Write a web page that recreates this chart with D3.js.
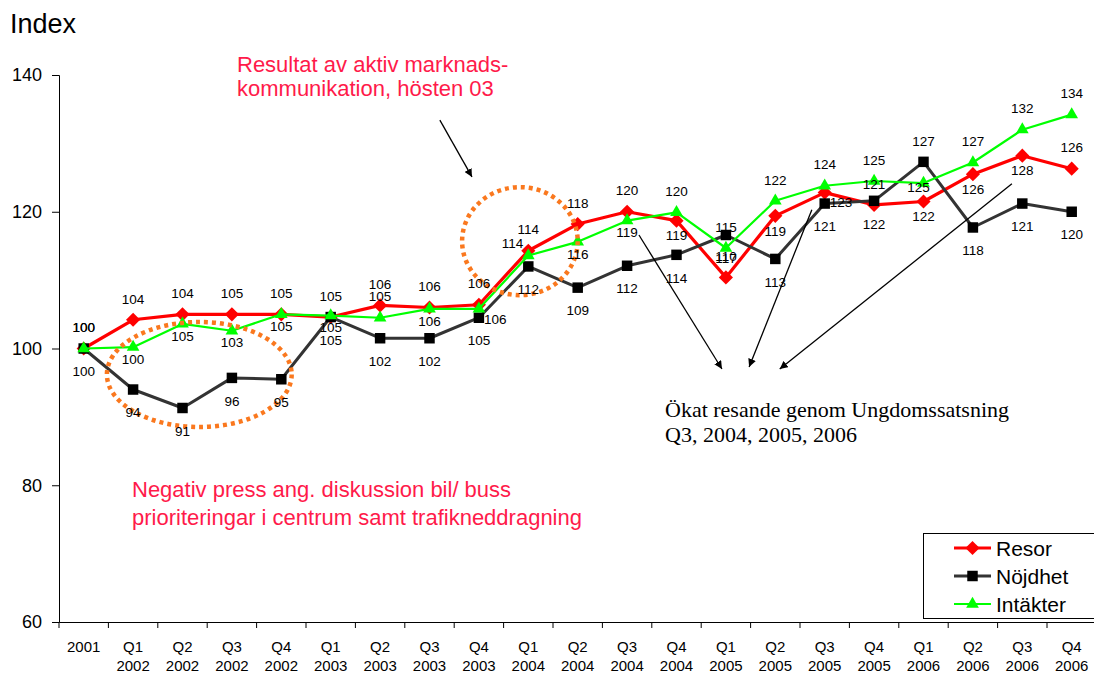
<!DOCTYPE html>
<html>
<head>
<meta charset="utf-8">
<script src="https://cdn.jsdelivr.net/npm/d3@7"></script>
<style>
  body { margin: 0; background: #fff; }
  text { font-family: Arial, "Liberation Sans", sans-serif; }
</style>
</head>
<body>
<div id="chart"></div>
<script>
const categories = ["2001", "Q1 2002", "Q2 2002", "Q3 2002", "Q4 2002", "Q1 2003", "Q2 2003", "Q3 2003",
  "Q4 2003", "Q1 2004", "Q2 2004", "Q3 2004", "Q4 2004", "Q1 2005", "Q2 2005", "Q3 2005", "Q4 2005",
  "Q1 2006", "Q2 2006", "Q3 2006", "Q4 2006"];

const resor = [100, 104.2, 105.0, 105.0, 105.0, 104.6, 106.3, 106.0, 106.4, 114.3, 118.2, 120.0, 118.7,
  110.4, 119.4, 122.8, 121.0, 121.5, 125.5, 128.2, 126.3];
const nojdhet = [100, 94.0, 91.3, 95.7, 95.5, 104.6, 101.5, 101.5, 104.5, 112.0, 108.9, 112.1, 113.7,
  116.6, 113.1, 121.2, 121.6, 127.3, 117.7, 121.2, 120.0];
const intakter = [100, 100.2, 103.6, 102.6, 105.0, 104.8, 104.5, 105.8, 105.8, 113.6, 115.6, 118.7, 119.9,
  114.7, 121.6, 123.8, 124.5, 124.2, 127.2, 132.0, 134.2];

// data labels as printed on the chart
const resorLabels = [100, 104, 104, 105, 105, 105, 106, 106, 106, 114, 118, 120, 119, 110, 119, 123, 121, 122, 126, 128, 126];
const nojdhetLabels = [100, 94, 91, 96, 95, 105, 102, 102, 105, 112, 109, 112, 114, 117, 113, 121, 122, 127, 118, 121, 120];
const intakterLabels = [100, 100, 105, 103, 105, 105, 105, 106, 106, 114, 116, 119, 120, 115, 122, 124, 125, 125, 127, 132, 134];

// label side: a = above, b = below, l = left, r = right, c = on point
const resorSide = "aaaaaaaaaaaababrabbba";
const nojdhetSide = "bbbbbbbbbbbbbbbbbabbb";
const intakterSide = "abbbbbabrlbbaaaaacaaa";

const yTicks = [60, 80, 100, 120, 140];

const width = 1094, height = 674;

const svg = d3.select("#chart").append("svg")
  .attr("width", width)
  .attr("height", height);

const x = d3.scaleBand()
  .domain(categories)
  .range([59, 59 + 21 * 49.4]);
const y = d3.scaleLinear()
  .domain([60, 140])
  .range([622, 75]);

const cx = i => x(categories[i]) + x.bandwidth() / 2;
// position from fractional category index and value (for annotations)
const at = (i, v) => [x(categories[0]) + x.step() * (i + 0.5), y(v)];

// Y axis
const yAxis = svg.append("g")
  .attr("transform", "translate(59,0)")
  .call(d3.axisLeft(y).tickValues(yTicks).tickSize(7).tickPadding(10));
yAxis.selectAll("text").style("font-size", "18px").attr("fill", "#000");
yAxis.selectAll("line, path").attr("stroke", "#000");

// X axis
const xAxis = svg.append("g")
  .attr("transform", "translate(0,622)")
  .call(d3.axisBottom(x).tickSize(0).tickPadding(19));
xAxis.select(".domain").attr("stroke", "#000");
xAxis.selectAll("text")
  .style("font-size", "15px")
  .attr("fill", "#000")
  .each(function(d) {
    const parts = d.split(" ");
    const t = d3.select(this).text(null);
    parts.forEach((p, k) => {
      t.append("tspan").attr("x", 0).attr("dy", k === 0 ? "0.71em" : "19px").text(p);
    });
  });
xAxis.selectAll(".boundary")
  .data(categories)
  .join("line")
  .attr("class", "boundary")
  .attr("x1", d => x(d)).attr("x2", d => x(d))
  .attr("y1", 0).attr("y2", 6)
  .attr("stroke", "#000");

svg.append("text")
  .attr("x", 10).attr("y", 33)
  .style("font-size", "27px")
  .text("Index");

// Series
const series = [
  { name: "Resor", values: resor, labels: resorLabels, side: resorSide, color: "#ff0000", marker: "#ff0000",
    width: 3.2, shape: d3.symbolSquare, size: 100, rotate: 45, below: 15 },
  { name: "Nöjdhet", values: nojdhet, labels: nojdhetLabels, side: nojdhetSide, color: "#333333", marker: "#000000",
    width: 3, shape: d3.symbolSquare, size: 110, rotate: 0, below: 23 },
  { name: "Intäkter", values: intakter, labels: intakterLabels, side: intakterSide, color: "#00ff00", marker: "#00ff00",
    width: 2.2, shape: d3.symbolTriangle, size: 70, rotate: 0, below: 12 }
];

const line = d3.line().x((d, i) => cx(i)).y(d => y(d));

series.forEach(s => {
  svg.append("path")
    .datum(s.values)
    .attr("fill", "none")
    .attr("stroke", s.color)
    .attr("stroke-width", s.width)
    .attr("stroke-linejoin", "round")
    .attr("d", line);
  svg.selectAll(null)
    .data(s.values)
    .join("path")
    .attr("d", d3.symbol().type(s.shape).size(s.size))
    .attr("transform", (d, i) => `translate(${cx(i)},${y(d)}) rotate(${s.rotate})`)
    .attr("fill", s.marker);
});

// Dotted ellipses
const ellipses = [
  { i: 2.34, v: 96.2, ri: 1.87, rv: 7.68 },
  { i: 8.83, v: 115.7, ri: 1.17, rv: 7.9 }
];
ellipses.forEach(e => {
  const [ex, ey] = at(e.i, e.v);
  svg.append("ellipse")
    .attr("cx", ex).attr("cy", ey)
    .attr("rx", e.ri * x.step())
    .attr("ry", y(100 - e.rv) - y(100))
    .attr("fill", "none")
    .attr("stroke", "#fa781e")
    .attr("stroke-width", 4.5)
    .attr("stroke-dasharray", "4 4");
});

// Data labels
series.forEach(s => {
  svg.selectAll(null)
    .data(s.values)
    .join("text")
    .attr("x", (d, i) => {
      const p = s.side[i];
      return p === "l" ? cx(i) - 5 : p === "r" ? cx(i) + 5 : p === "c" ? cx(i) - 5 : cx(i);
    })
    .attr("y", (d, i) => {
      const p = s.side[i];
      const off = p === "a" ? -21 : p === "b" ? s.below : p === "l" ? -12 : p === "r" ? 10 : 4;
      return y(d) + off;
    })
    .attr("dy", "0.35em")
    .attr("text-anchor", (d, i) => s.side[i] === "l" ? "end" : s.side[i] === "r" ? "start" : "middle")
    .style("font-size", "13.5px")
    .attr("fill", "#000")
    .text((d, i) => s.labels[i]);
});

// Arrows
svg.append("defs").append("marker")
  .attr("id", "arrow")
  .attr("viewBox", "0 0 10 10")
  .attr("refX", 10).attr("refY", 5)
  .attr("markerWidth", 8).attr("markerHeight", 8)
  .attr("markerUnits", "userSpaceOnUse")
  .attr("orient", "auto")
  .append("path")
  .attr("d", "M0,0 L10,5 L0,10 Z")
  .attr("fill", "#000");

const arrows = [
  [[7.21, 133.4], [7.86, 125.1]],
  [[11.24, 116.6], [12.92, 97.0]],
  [[14.74, 120.3], [13.47, 97.3]],
  [[18.79, 124.1], [14.09, 97.0]]
];
arrows.forEach(([a, b]) => {
  const p1 = at(a[0], a[1]), p2 = at(b[0], b[1]);
  svg.append("line")
    .attr("x1", p1[0]).attr("y1", p1[1])
    .attr("x2", p2[0]).attr("y2", p2[1])
    .attr("stroke", "#000")
    .attr("stroke-width", 1.3)
    .attr("marker-end", "url(#arrow)");
});

// Annotation texts
const pink = "#ff1a4a";
const note1 = svg.append("text").attr("fill", pink).style("font-size", "22px");
note1.append("tspan").attr("x", 237).attr("y", 72).text("Resultat av aktiv marknads-");
note1.append("tspan").attr("x", 237).attr("y", 96).text("kommunikation, hösten 03");

const note2 = svg.append("text").attr("fill", pink).style("font-size", "22px");
note2.append("tspan").attr("x", 132).attr("y", 497).text("Negativ press ang. diskussion bil/ buss");
note2.append("tspan").attr("x", 132).attr("y", 525).text("prioriteringar i centrum samt trafikneddragning");

const note3 = svg.append("text").attr("fill", "#000")
  .style("font-family", "'Liberation Serif', 'Times New Roman', serif").style("font-size", "22px");
note3.append("tspan").attr("x", 665).attr("y", 417).text("Ökat resande genom Ungdomssatsning");
note3.append("tspan").attr("x", 665).attr("y", 442).text("Q3, 2004, 2005, 2006");

// Legend
const legend = svg.append("g");
legend.append("rect")
  .attr("x", 923.5).attr("y", 533.5)
  .attr("width", 200).attr("height", 85)
  .attr("fill", "#fff")
  .attr("stroke", "#000");
series.forEach((s, k) => {
  const ly = 548 + k * 28;
  legend.append("line")
    .attr("x1", 954).attr("x2", 991)
    .attr("y1", ly).attr("y2", ly)
    .attr("stroke", s.color)
    .attr("stroke-width", s.width);
  legend.append("path")
    .attr("d", d3.symbol().type(s.shape).size(s.size))
    .attr("transform", `translate(972.5,${ly}) rotate(${s.rotate})`)
    .attr("fill", s.marker);
  legend.append("text")
    .attr("x", 996).attr("y", ly)
    .attr("dy", "0.36em")
    .style("font-size", "21px")
    .text(s.name);
});
</script>
</body>
</html>
